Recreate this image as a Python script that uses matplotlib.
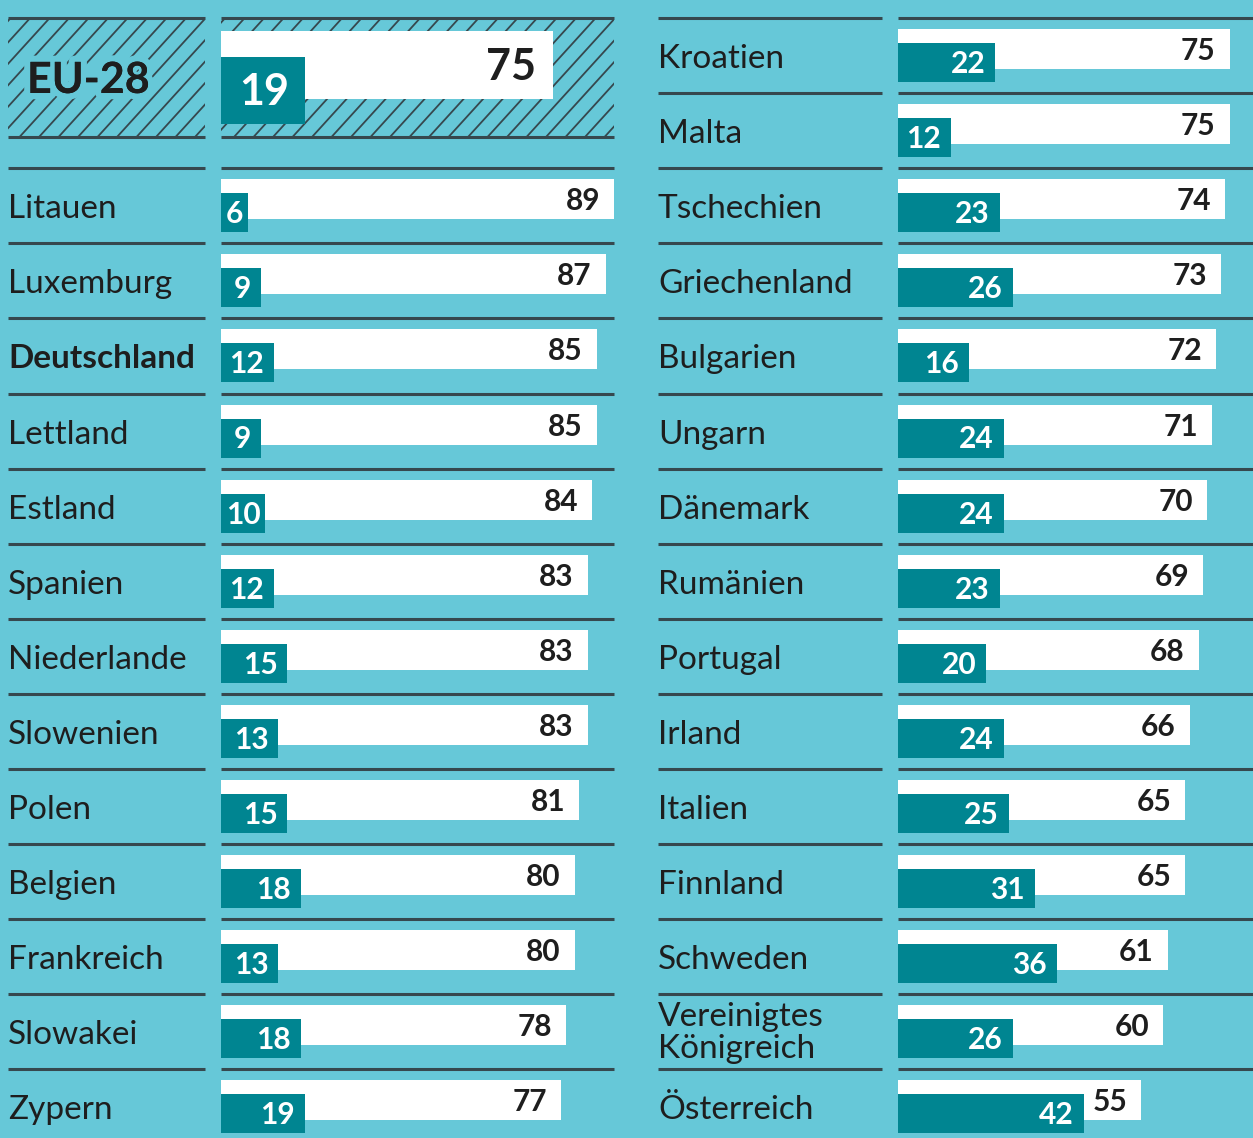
import matplotlib
matplotlib.use("Agg")
import matplotlib.pyplot as plt
import matplotlib.patheffects as pe
from matplotlib.patches import Rectangle
from matplotlib.collections import LineCollection
from matplotlib.transforms import IdentityTransform

plt.rcParams['font.family'] = ['Lato', 'DejaVu Sans']

# data: share in percent, white = long bar, teal = short bar
eu_label = "EU-28"
eu_white = 75
eu_teal = 19

left_countries = ["Litauen", "Luxemburg", "Deutschland", "Lettland", "Estland",
                  "Spanien", "Niederlande", "Slowenien", "Polen", "Belgien",
                  "Frankreich", "Slowakei", "Zypern"]
left_white = [89, 87, 85, 85, 84, 83, 83, 83, 81, 80, 80, 78, 77]
left_teal = [6, 9, 12, 9, 10, 12, 15, 13, 15, 18, 13, 18, 19]

right_countries = ["Kroatien", "Malta", "Tschechien", "Griechenland", "Bulgarien",
                   "Ungarn", "Dänemark", "Rumänien", "Portugal", "Irland",
                   "Italien", "Finnland", "Schweden", "Vereinigtes\nKönigreich",
                   "Österreich"]
right_white = [75, 75, 74, 73, 72, 71, 70, 69, 68, 66, 65, 65, 61, 60, 55]
right_teal = [22, 12, 23, 26, 16, 24, 24, 23, 20, 24, 25, 31, 36, 26, 42]

highlight = "Deutschland"

BG = "#66c8d8"
TEAL = "#008591"
LINE = "#36484e"
DARK = "#1e1e1e"

W, H = 1253, 1138
K = 4.42      # pixels per percent
ROW = 75.1    # row height in pixels
TOP = 18      # first separator line

fig = plt.figure(figsize=(W / 100, H / 100), dpi=100, facecolor=BG)


def make_axes(x0, x1, origin):
    ax = fig.add_axes([x0 / W, 0, (x1 - x0) / W, 1])
    ax.set_xlim((x0 - origin) / K, (x1 - origin) / K)
    ax.set_ylim((H - TOP) / ROW, -TOP / ROW)
    ax.axis('off')
    return ax


def px(p):
    return p / K


def py(p):
    return p / ROW


def draw_column(ax, origin, rows, names, white, teal, lab_x, lab_end, bar_end):
    for r in rows:
        ax.hlines(r, px(lab_x - origin), px(lab_end - origin), color=LINE, lw=2.2)
        ax.hlines(r, 0, px(bar_end - origin), color=LINE, lw=2.2)
    ax.barh([r + py(11) for r in rows], white, height=py(40), align='edge',
            color='white', zorder=2)
    ax.barh([r + py(25) for r in rows], teal, height=py(39), align='edge',
            color=TEAL, zorder=3)
    for r, name, w, t in zip(rows, names, white, teal):
        if "\n" in name:
            ax.text(px(lab_x - origin), r + py(39), name, fontsize=24,
                    color=DARK, va='center', ha='left', linespacing=1.1)
        else:
            ax.text(px(lab_x - origin), r + py(50), name, fontsize=24,
                    color=DARK, va='baseline', ha='left',
                    fontweight='bold' if name == highlight else 'normal')
        ax.text(w - px(14), r + py(42), str(w), fontsize=21.5, fontweight='bold',
                color=DARK, ha='right', va='baseline', zorder=4)
        tx = max(t - px(10), px(len(str(t)) * 17.5 + 5))
        ax.text(tx, r + py(55), str(t), fontsize=21.5, fontweight='bold',
                color='white', ha='right', va='baseline', zorder=4)


# left column
axl = make_axes(0, 640, 221)
left_rows = list(range(2, 2 + len(left_countries)))
draw_column(axl, 221, left_rows, left_countries, left_white, left_teal, 8, 205, 614)

# EU-28 block with diagonal hatching (drawn in display pixels)
eu_h = py(137 - TOP)
slope = 1.1
step = 19.5
for x0, x1 in [(8, 205), (221, 614)]:
    axl.hlines([0, eu_h], px(x0 - 221), px(x1 - 221), color=LINE, lw=2.2)
    rect = Rectangle((px(x0 - 221), 0), px(x1 - x0), eu_h, facecolor='none',
                     edgecolor='none', transform=axl.transData)
    axl.add_patch(rect)
    base = H - 137
    segs = []
    for i in range(-10, 40):
        xs = i * step
        segs.append([(xs, base), (xs + 200, base + 200 * slope)])
    lc = LineCollection(segs, colors=LINE, linewidths=1.3,
                        transform=IdentityTransform(), zorder=1)
    axl.add_collection(lc)
    lc.set_clip_path(rect)

axl.barh([py(13)], [eu_white], height=py(68), align='edge', color='white', zorder=2)
axl.barh([py(39)], [eu_teal], height=py(67), align='edge', color=TEAL, zorder=3)
axl.text(px(27 - 221), py(93 - TOP), eu_label, fontsize=31, fontweight='bold',
         color=DARK, ha='left', va='baseline', zorder=4,
         path_effects=[pe.withStroke(linewidth=9, foreground=BG), pe.Normal()])
axl.text(eu_white - px(17), py(80 - TOP), str(eu_white), fontsize=31,
         fontweight='bold', color=DARK, ha='right', va='baseline', zorder=4)
axl.text(eu_teal - px(16), py(105 - TOP), str(eu_teal), fontsize=31,
         fontweight='bold', color='white', ha='right', va='baseline', zorder=4)

# right column
axr = make_axes(640, W, 898)
right_rows = list(range(len(right_countries)))
draw_column(axr, 898, right_rows, right_countries, right_white, right_teal,
            658, 882, W + 5)

fig.savefig("out.png", dpi=100, facecolor=BG)
